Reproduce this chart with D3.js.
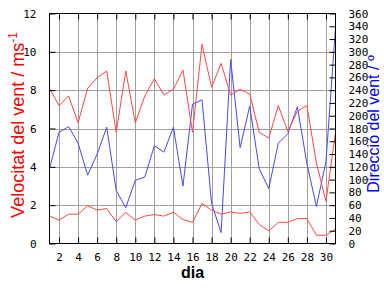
<!DOCTYPE html>
<html><head><meta charset="utf-8">
<script src="https://cdn.jsdelivr.net/npm/d3@7"></script>
<style>body{margin:0;background:#fff}svg{display:block}</style>
</head><body>
<script>
const days = d3.range(1, 32);
const velMax = [8.1,7.2,7.7,6.3,8.1,8.65,9.0,5.8,9.0,6.3,7.7,8.6,7.75,8.05,9.05,5.8,10.4,8.15,9.4,7.75,8.05,7.8,5.8,5.5,7.2,5.85,6.9,7.2,4.2,2.2,5.8];
const velMean = [1.43,1.22,1.53,1.53,1.97,1.74,1.83,1.13,1.62,1.22,1.43,1.51,1.43,1.63,1.25,1.1,2.09,1.74,1.53,1.65,1.57,1.65,0.99,0.66,1.1,1.11,1.3,1.3,0.43,0.43,0.75];
const direction = [117,174,183,157,107,140,182,83,56,99,104,153,143,182,90,218,225,63,17,288,150,215,117,86,157,172,214,125,58,128,338];
const xTicks = d3.range(2, 31, 2);
const yTicks = d3.range(0, 13, 2);
const dirTicks = d3.range(0, 361, 20);

const W = 384, H = 288;
const L = 49.5, R = 335.5, T = 13.5, B = 243.5;
const svg = d3.select("body").append("svg").attr("width", W).attr("height", H);
const x = d3.scaleLinear().domain([1, 31]).range([L, R]);
const y = d3.scaleLinear().domain([0, 12]).range([B, T]);
const yd = d3.scaleLinear().domain([0, 360]).range([B, T]);
const mono = "'DejaVu Sans Mono', monospace";
const sans = "'Liberation Sans', Arial, sans-serif";

// grid
const grid = svg.append("g").attr("stroke", "#a0a0a0").attr("stroke-width", 1);
grid.selectAll(".gx").data(xTicks).join("line")
  .attr("x1", d => Math.round(x(d)) + 0.5).attr("x2", d => Math.round(x(d)) + 0.5)
  .attr("y1", T).attr("y2", B);
grid.selectAll(".gy").data(yTicks.slice(1, -1)).join("line")
  .attr("x1", L).attr("x2", R)
  .attr("y1", d => Math.round(y(d)) + 0.5).attr("y2", d => Math.round(y(d)) + 0.5);

// lines
const line = (sc) => d3.line().x((d, i) => x(days[i])).y(d => sc(d));
svg.append("path").datum(direction).attr("fill", "none").attr("stroke", "#4848ff").attr("stroke-width", 1).attr("d", line(yd));
svg.append("path").datum(velMax).attr("fill", "none").attr("stroke", "#ff4848").attr("stroke-width", 1).attr("d", line(y));
svg.append("path").datum(velMean).attr("fill", "none").attr("stroke", "#ff4848").attr("stroke-width", 1).attr("d", line(y));

// frame
svg.append("rect").attr("x", L).attr("y", T).attr("width", R - L).attr("height", B - T)
  .attr("fill", "none").attr("stroke", "#000").attr("stroke-width", 1);

// axes
const axB = svg.append("g").attr("transform", `translate(0,${B})`)
  .call(d3.axisBottom(x).tickValues(xTicks).tickSizeInner(-6).tickSizeOuter(0).tickPadding(10));
const axT = svg.append("g").attr("transform", `translate(0,${T})`)
  .call(d3.axisTop(x).tickValues(xTicks).tickSizeInner(-6).tickSizeOuter(0).tickFormat(""));
const axL = svg.append("g").attr("transform", `translate(${L},0)`)
  .call(d3.axisLeft(y).tickValues(yTicks).tickSizeInner(-6).tickSizeOuter(0).tickPadding(13));
const axR = svg.append("g").attr("transform", `translate(${R},0)`)
  .call(d3.axisRight(yd).tickValues(dirTicks).tickSizeInner(-6).tickSizeOuter(0).tickPadding(13));
[axB, axT, axL, axR].forEach(a => {
  a.select(".domain").remove();
  a.selectAll("line").attr("stroke", "#000");
  a.selectAll("text").attr("font-family", mono).attr("font-size", 11).attr("fill", "#000");
});

// titles
svg.append("text").attr("x", (L + R) / 2).attr("y", 278).attr("text-anchor", "middle")
  .attr("font-family", sans).attr("font-size", 16).attr("font-weight", "bold")
  .text("dia");
const tl = svg.append("text").attr("transform", `translate(24,125) rotate(-90)`).attr("text-anchor", "middle")
  .attr("font-family", sans).attr("font-size", 18).attr("fill", "#ff0000");
tl.append("tspan").text("Velocitat del vent / ms");
tl.append("tspan").attr("font-size", 12).attr("dy", -7).text("-1");
svg.append("text").attr("transform", `translate(379,124) rotate(-90)`).attr("text-anchor", "middle")
  .attr("font-family", sans).attr("font-size", 16).attr("fill", "#0000ff")
  .text("Direcció del vent / º");
</script>
</body></html>
